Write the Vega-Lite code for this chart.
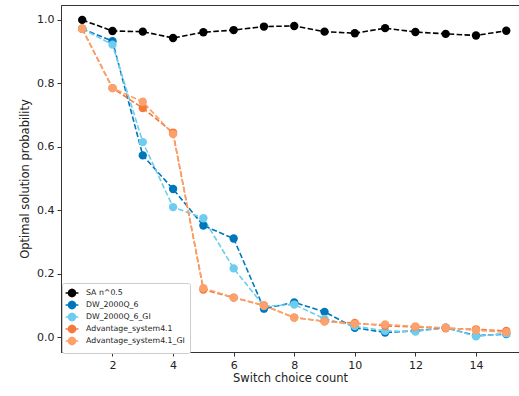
{
  "$schema": "https://vega.github.io/schema/vega-lite/v6.json",
  "width": 458,
  "height": 347,
  "autosize": "none",
  "padding": {"left": 61, "top": 5, "right": 0, "bottom": 44},
  "config": {
    "font": "DejaVu Sans",
    "view": {"stroke": "#333", "strokeWidth": 1},
    "axis": {"grid": false, "domainColor": "#333", "tickColor": "#333", "labelColor": "#222", "titleColor": "#222", "labelFontSize": 11, "titleFontSize": 11.5, "titleFontWeight": "normal", "tickSize": 4, "labelPadding": 3}
  },
  "data": {
    "values": [
      {"x": 1, "series": "SA n^0.5", "p": 1.0},
      {"x": 2, "series": "SA n^0.5", "p": 0.965},
      {"x": 3, "series": "SA n^0.5", "p": 0.963},
      {"x": 4, "series": "SA n^0.5", "p": 0.943},
      {"x": 5, "series": "SA n^0.5", "p": 0.961},
      {"x": 6, "series": "SA n^0.5", "p": 0.968},
      {"x": 7, "series": "SA n^0.5", "p": 0.979},
      {"x": 8, "series": "SA n^0.5", "p": 0.981},
      {"x": 9, "series": "SA n^0.5", "p": 0.963},
      {"x": 10, "series": "SA n^0.5", "p": 0.958},
      {"x": 11, "series": "SA n^0.5", "p": 0.974},
      {"x": 12, "series": "SA n^0.5", "p": 0.962},
      {"x": 13, "series": "SA n^0.5", "p": 0.956},
      {"x": 14, "series": "SA n^0.5", "p": 0.951},
      {"x": 15, "series": "SA n^0.5", "p": 0.966},
      {"x": 1, "series": "DW_2000Q_6", "p": 0.972},
      {"x": 2, "series": "DW_2000Q_6", "p": 0.933},
      {"x": 3, "series": "DW_2000Q_6", "p": 0.573},
      {"x": 4, "series": "DW_2000Q_6", "p": 0.467},
      {"x": 5, "series": "DW_2000Q_6", "p": 0.352},
      {"x": 6, "series": "DW_2000Q_6", "p": 0.311},
      {"x": 7, "series": "DW_2000Q_6", "p": 0.09},
      {"x": 8, "series": "DW_2000Q_6", "p": 0.11},
      {"x": 9, "series": "DW_2000Q_6", "p": 0.08},
      {"x": 10, "series": "DW_2000Q_6", "p": 0.03},
      {"x": 11, "series": "DW_2000Q_6", "p": 0.015},
      {"x": 12, "series": "DW_2000Q_6", "p": 0.02},
      {"x": 13, "series": "DW_2000Q_6", "p": 0.03},
      {"x": 14, "series": "DW_2000Q_6", "p": 0.005},
      {"x": 15, "series": "DW_2000Q_6", "p": 0.01},
      {"x": 1, "series": "DW_2000Q_6_GI", "p": 0.972},
      {"x": 2, "series": "DW_2000Q_6_GI", "p": 0.922},
      {"x": 3, "series": "DW_2000Q_6_GI", "p": 0.615},
      {"x": 4, "series": "DW_2000Q_6_GI", "p": 0.41},
      {"x": 5, "series": "DW_2000Q_6_GI", "p": 0.375},
      {"x": 6, "series": "DW_2000Q_6_GI", "p": 0.217},
      {"x": 7, "series": "DW_2000Q_6_GI", "p": 0.098},
      {"x": 8, "series": "DW_2000Q_6_GI", "p": 0.103},
      {"x": 9, "series": "DW_2000Q_6_GI", "p": 0.058},
      {"x": 10, "series": "DW_2000Q_6_GI", "p": 0.035},
      {"x": 11, "series": "DW_2000Q_6_GI", "p": 0.02},
      {"x": 12, "series": "DW_2000Q_6_GI", "p": 0.018},
      {"x": 13, "series": "DW_2000Q_6_GI", "p": 0.03},
      {"x": 14, "series": "DW_2000Q_6_GI", "p": 0.003},
      {"x": 15, "series": "DW_2000Q_6_GI", "p": 0.012},
      {"x": 1, "series": "Advantage_system4.1", "p": 0.972},
      {"x": 2, "series": "Advantage_system4.1", "p": 0.785},
      {"x": 3, "series": "Advantage_system4.1", "p": 0.722},
      {"x": 4, "series": "Advantage_system4.1", "p": 0.645},
      {"x": 5, "series": "Advantage_system4.1", "p": 0.15},
      {"x": 6, "series": "Advantage_system4.1", "p": 0.125},
      {"x": 7, "series": "Advantage_system4.1", "p": 0.1},
      {"x": 8, "series": "Advantage_system4.1", "p": 0.062},
      {"x": 9, "series": "Advantage_system4.1", "p": 0.05},
      {"x": 10, "series": "Advantage_system4.1", "p": 0.045},
      {"x": 11, "series": "Advantage_system4.1", "p": 0.036},
      {"x": 12, "series": "Advantage_system4.1", "p": 0.032},
      {"x": 13, "series": "Advantage_system4.1", "p": 0.028},
      {"x": 14, "series": "Advantage_system4.1", "p": 0.025},
      {"x": 15, "series": "Advantage_system4.1", "p": 0.02},
      {"x": 1, "series": "Advantage_system4.1_GI", "p": 0.972},
      {"x": 2, "series": "Advantage_system4.1_GI", "p": 0.785},
      {"x": 3, "series": "Advantage_system4.1_GI", "p": 0.742},
      {"x": 4, "series": "Advantage_system4.1_GI", "p": 0.64},
      {"x": 5, "series": "Advantage_system4.1_GI", "p": 0.155},
      {"x": 6, "series": "Advantage_system4.1_GI", "p": 0.125},
      {"x": 7, "series": "Advantage_system4.1_GI", "p": 0.1},
      {"x": 8, "series": "Advantage_system4.1_GI", "p": 0.062},
      {"x": 9, "series": "Advantage_system4.1_GI", "p": 0.05},
      {"x": 10, "series": "Advantage_system4.1_GI", "p": 0.042},
      {"x": 11, "series": "Advantage_system4.1_GI", "p": 0.04},
      {"x": 12, "series": "Advantage_system4.1_GI", "p": 0.034},
      {"x": 13, "series": "Advantage_system4.1_GI", "p": 0.03},
      {"x": 14, "series": "Advantage_system4.1_GI", "p": 0.022},
      {"x": 15, "series": "Advantage_system4.1_GI", "p": 0.016}
    ]
  },
  "encoding": {
    "x": {"field": "x", "type": "quantitative", "title": "Switch choice count",
      "scale": {"domain": [0.3, 15.42], "nice": false, "zero": false},
      "axis": {"values": [2, 4, 6, 8, 10, 12, 14], "format": "d", "titlePadding": 2}},
    "y": {"field": "p", "type": "quantitative", "title": "Optimal solution probability",
      "scale": {"domain": [-0.0465, 1.047], "nice": false, "zero": false},
      "axis": {"values": [0, 0.2, 0.4, 0.6, 0.8, 1.0], "format": ".1f", "titlePadding": 6}},
    "color": {"field": "series", "type": "nominal",
      "scale": {"domain": ["SA n^0.5", "DW_2000Q_6", "DW_2000Q_6_GI", "Advantage_system4.1", "Advantage_system4.1_GI"],
        "range": ["#000000", "#0077bb", "#6ecdee", "#f47a3c", "#fca06c"]},
      "legend": {"title": null, "orient": "none", "legendX": 1, "legendY": 278, "labelFontSize": 7.8, "labelColor": "#222",
        "symbolType": "M-1.6,0L1.6,0M0.9,0L0.78,0.45L0.45,0.78L0,0.9L-0.45,0.78L-0.78,0.45L-0.9,0L-0.78,-0.45L-0.45,-0.78L0,-0.9L0.45,-0.78L0.78,-0.45Z",
        "symbolSize": 64, "symbolStrokeWidth": 1.5, "symbolOpacity": 1, "symbolDash": [],
        "rowPadding": -4, "padding": 5, "strokeColor": "#cccccc", "fillColor": "white", "cornerRadius": 2, "labelOffset": 9,
        "encode": {"symbols": {"update": {"stroke": {"scale": "color", "field": "value"}, "fill": {"scale": "color", "field": "value"}}}}}}
  },
  "layer": [
    {"mark": {"type": "line", "strokeDash": [5.5, 2.4], "strokeWidth": 1.6}},
    {"mark": {"type": "point", "shape": "circle", "filled": true, "size": 70, "opacity": 1}}
  ]
}
